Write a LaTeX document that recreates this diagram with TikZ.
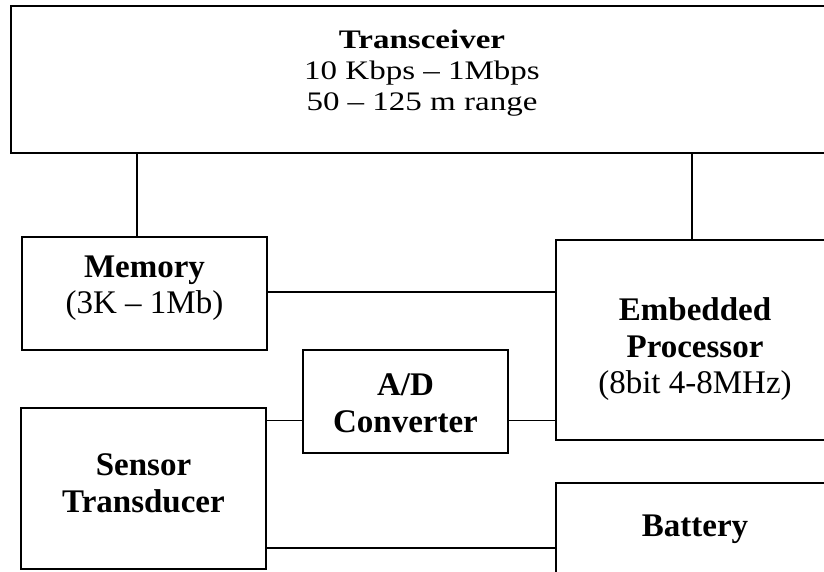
\documentclass[tikz,border=0pt]{standalone}
\usepackage{fontspec}
\setmainfont{Liberation Serif}
\usetikzlibrary{calc}

\begin{document}
\begin{tikzpicture}[
    x=1pt, y=-1pt,
    line width=1.5pt,
    blk/.style={draw, rectangle, inner sep=0pt, outer sep=0pt}, % block frame
    txt/.style={align=center, inner sep=0pt, font=\fontsize{33}{36.5}\selectfont} % block text
]
    \useasboundingbox (0,0) rectangle (824,571);

    % --- Blocks ---
    \node[blk, minimum width=822, minimum height=147] (trx) at (422,79.5) {};
    \node[blk, minimum width=245, minimum height=113] (mem) at (144.5,293.5) {};
    \node[blk, minimum width=278, minimum height=200] (proc) at (695,340) {};
    \node[blk, minimum width=205, minimum height=103] (ad) at (405.5,401.5) {};
    \node[blk, minimum width=245, minimum height=161] (sen) at (143.5,488.5) {};
    \node[blk, minimum width=278, minimum height=97] (bat) at (695,531.5) {};

    % --- Texts ---
    \node[txt] (trxtxt) at (422,73.6) {\scalebox{1}[0.81]{\fontsize{33}{38}\selectfont
        \begin{tabular}{@{}c@{}}\textbf{Transceiver}\\ 10 Kbps -- 1Mbps\\ 50 -- 125 m range\end{tabular}}};
    \node[txt] (memtxt) at (144.5,288) {\textbf{Memory}\\(3K -- 1Mb)};
    \node[txt] (proctxt) at (695,349.5) {\textbf{Embedded}\\\textbf{Processor}\\(8bit 4-8MHz)};
    \node[txt] (adtxt) at (405.5,403.5) {\textbf{A/D}\\\textbf{Converter}};
    \node[txt] (sentxt) at (143.5,483.5) {\textbf{Sensor}\\\textbf{Transducer}};
    \node[txt] (battxt) at (695,529) {\textbf{Battery}};

    % --- Connections ---
    \draw ([xshift=-7.5pt]mem.north) -- ([xshift=-7.5pt]mem.north |- trx.south);
    \draw ([xshift=-3pt]proc.north) -- ([xshift=-3pt]proc.north |- trx.south);
    \draw ([yshift=1.5pt]mem.east) -- ([yshift=1.5pt]mem.east -| proc.west);
    \draw ([yshift=-19pt]ad.west) -- ([yshift=-19pt]ad.west -| sen.east);
    \draw ([yshift=-19pt]ad.east) -- ([yshift=-19pt]ad.east -| proc.west);
    \draw ([yshift=-59.5pt]sen.east) -- ([yshift=-59.5pt]sen.east -| bat.west);

\end{tikzpicture}
\end{document}
